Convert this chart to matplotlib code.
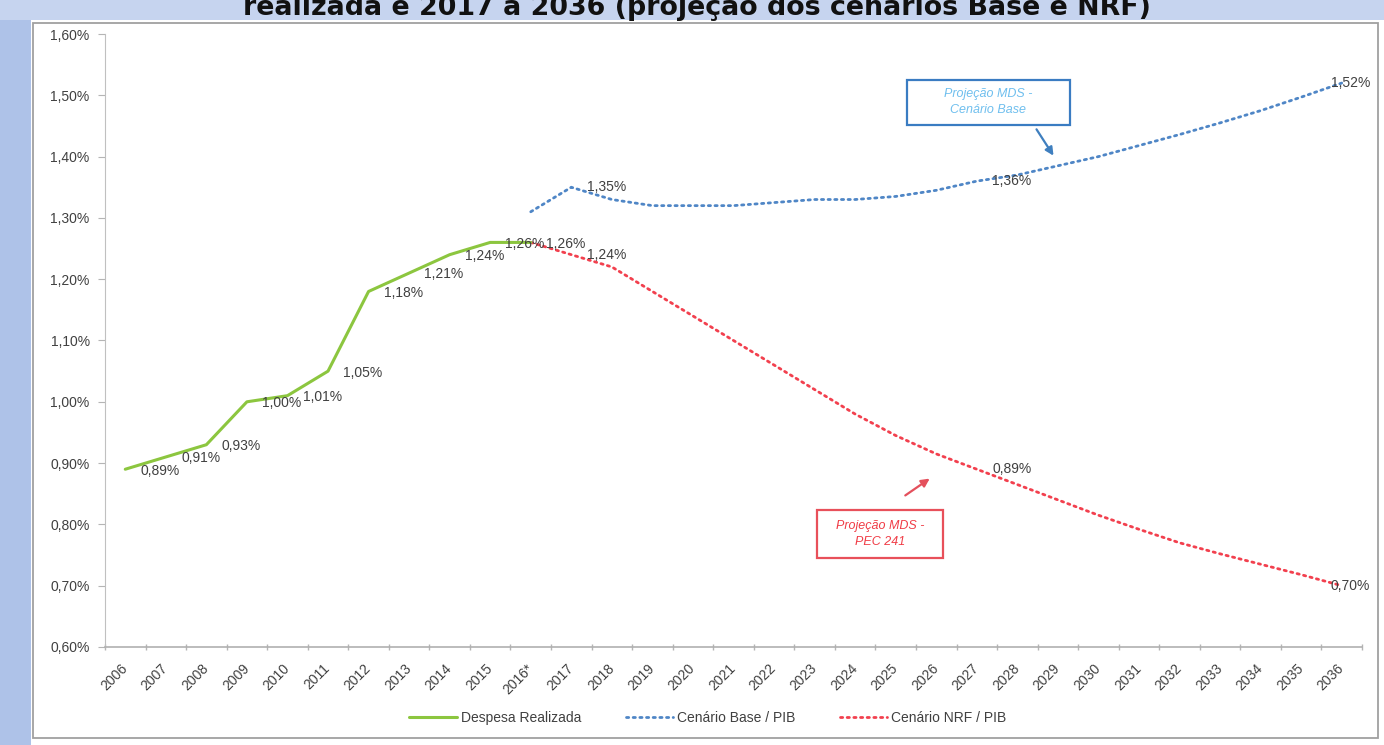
import numpy as np
import matplotlib

matplotlib.use("Agg")
import matplotlib.pyplot as plt
from matplotlib.patches import Rectangle

plt.rcParams["font.family"] = ["Liberation Sans", "DejaVu Sans"]

# dados (% do PIB)
years = ["2006", "2007", "2008", "2009", "2010", "2011", "2012", "2013", "2014", "2015",
         "2016*", "2017", "2018", "2019", "2020", "2021", "2022", "2023", "2024", "2025",
         "2026", "2027", "2028", "2029", "2030", "2031", "2032", "2033", "2034", "2035", "2036"]
despesa = [0.89, 0.91, 0.93, 1.00, 1.01, 1.05, 1.18, 1.21, 1.24, 1.26, 1.26]
cenario_base = [1.31, 1.35, 1.33, 1.32, 1.32, 1.32, 1.325, 1.33, 1.33, 1.335, 1.345,
                1.36, 1.37, 1.385, 1.40, 1.418, 1.436, 1.455, 1.475, 1.497, 1.52]
cenario_nrf = [1.26, 1.24, 1.22, 1.18, 1.14, 1.10, 1.06, 1.02, 0.98, 0.945, 0.915,
               0.89, 0.865, 0.84, 0.815, 0.792, 0.77, 0.752, 0.735, 0.718, 0.70]
yticks = [0.60, 0.70, 0.80, 0.90, 1.00, 1.10, 1.20, 1.30, 1.40, 1.50, 1.60]

# anos rotulados nas projeções
base_labels = ["2017", "2027", "2036"]
nrf_labels = ["2017", "2027", "2036"]

W, H = 1384, 745
GREEN = "#8cc63f"
BLUE = "#4f86c6"
RED = "#f2404e"
TXT = "#404040"


def pct(v):
    return f"{v:.2f}".replace(".", ",") + "%"


fig = plt.figure(figsize=(W / 100, H / 100), dpi=100)
fig.patch.set_facecolor("white")

# fundo do slide + moldura do gráfico
fig.add_artist(Rectangle((0, 0), 31 / W, 1, transform=fig.transFigure,
                         facecolor="#aec2e8", edgecolor="none", zorder=-3))
fig.add_artist(Rectangle((0, (H - 20) / H), 1, 20 / H, transform=fig.transFigure,
                         facecolor="#c6d4ef", edgecolor="none", zorder=-3))
fig.add_artist(Rectangle((33 / W, (H - 738) / H), (1378 - 33) / W, (738 - 23) / H,
                         transform=fig.transFigure, facecolor="white",
                         edgecolor="#a0a0a0", lw=1.3, zorder=-2))

title = fig.text(243 / W, (H - 15) / H,
                 "realizada e 2017 a 2036 (projeção dos cenários Base e NRF)",
                 fontsize=19, fontweight="bold", color="#111111",
                 family="DejaVu Sans", ha="left", va="baseline")

ax = fig.add_axes([105 / W, (H - 647) / H, (1362 - 105) / W, (647 - 34) / H])
ax.set_facecolor("none")

x = np.arange(len(years))
n_hist = len(despesa)
x_proj = x[n_hist - 1:]

ax.plot(x[:n_hist], despesa, color=GREEN, lw=2.2, solid_capstyle="round",
        label="Despesa Realizada", zorder=3)
ax.plot(x_proj, cenario_base, color=BLUE, lw=2.0, linestyle=(0, (0.8, 1.6)),
        dash_capstyle="round", label="Cenário Base / PIB", zorder=2)
ax.plot(x_proj, cenario_nrf, color=RED, lw=2.0, linestyle=(0, (0.8, 1.6)),
        dash_capstyle="round", label="Cenário NRF / PIB", zorder=2)

lab_kw = dict(textcoords="offset points", ha="left", va="center",
              fontsize=10, color=TXT, zorder=4)
for xi, v in zip(x[:n_hist], despesa):
    ax.annotate(pct(v), (xi, v), xytext=(11, -1), **lab_kw)
for series, which in ((cenario_base, base_labels), (cenario_nrf, nrf_labels)):
    for yr in which:
        i = years.index(yr)
        v = series[i - (n_hist - 1)]
        dx = -8 if i == len(years) - 1 else 11
        ax.annotate(pct(v), (i, v), xytext=(dx, 0), **lab_kw)

ax.set_xlim(-0.5, len(years) - 0.5)
ax.set_ylim(yticks[0], yticks[-1])
ax.set_yticks(yticks)
ax.set_yticklabels([pct(v) for v in yticks], fontsize=10, color=TXT)
ax.set_xticks(x)
ax.set_xticklabels(years, fontsize=10, color=TXT, rotation=45,
                   ha="right", va="center", rotation_mode="anchor")
ax.set_xticks(np.arange(-0.5, len(years)), minor=True)
ax.tick_params(axis="x", which="major", length=0, pad=14)
ax.tick_params(axis="x", which="minor", length=5, direction="inout",
               color="#b5b5b5", width=1)
ax.tick_params(axis="y", length=5, direction="out", color="#b5b5b5", pad=6)
for s in ("top", "right"):
    ax.spines[s].set_visible(False)
ax.spines["left"].set_color("#c0c0c0")
ax.spines["bottom"].set_color("#b0b0b0")
ax.spines["bottom"].set_linewidth(1.2)

# caixas de anotação
px = lambda p: (p - 105) / ((1362 - 105) / len(years)) - 0.5
py = lambda p: yticks[0] + (647 - p) / (647 - 34) * (yticks[-1] - yticks[0])

ax.add_patch(Rectangle((px(907), py(125)), px(1070) - px(907), py(80) - py(125),
                       facecolor="white", edgecolor="#3a7cc2", lw=1.6, zorder=5))
ax.text((px(907) + px(1070)) / 2, py(102), "Projeção MDS -\nCenário Base",
        ha="center", va="center", fontsize=9, style="italic", color="#6fbfee",
        linespacing=1.4, zorder=6)
ax.annotate("", xy=(px(1055), py(158)), xytext=(px(1035), py(127)),
            arrowprops=dict(arrowstyle="-|>", color="#3f7fbf", lw=1.6,
                            mutation_scale=12), zorder=6)

ax.add_patch(Rectangle((px(817), py(558)), px(943) - px(817), py(510) - py(558),
                       facecolor="white", edgecolor="#e8505a", lw=1.6, zorder=5))
ax.text((px(817) + px(943)) / 2, py(534), "Projeção MDS -\nPEC 241",
        ha="center", va="center", fontsize=9, style="italic", color="#f03c46",
        linespacing=1.4, zorder=6)
ax.annotate("", xy=(px(932), py(477)), xytext=(px(903), py(497)),
            arrowprops=dict(arrowstyle="-|>", color="#e4505c", lw=1.6,
                            mutation_scale=12), zorder=6)

fig.legend(*ax.get_legend_handles_labels(), loc="center", ncol=3, frameon=False,
           bbox_to_anchor=(708 / W, (H - 718) / H), fontsize=10,
           handlelength=3.4, handletextpad=0.3, columnspacing=3.2,
           labelcolor=TXT)

# ajusta o título à largura observada
fig.canvas.draw()
w = title.get_window_extent().width
title.set_fontsize(19 * 907 / w)

fig.savefig("out.png", dpi=100)
